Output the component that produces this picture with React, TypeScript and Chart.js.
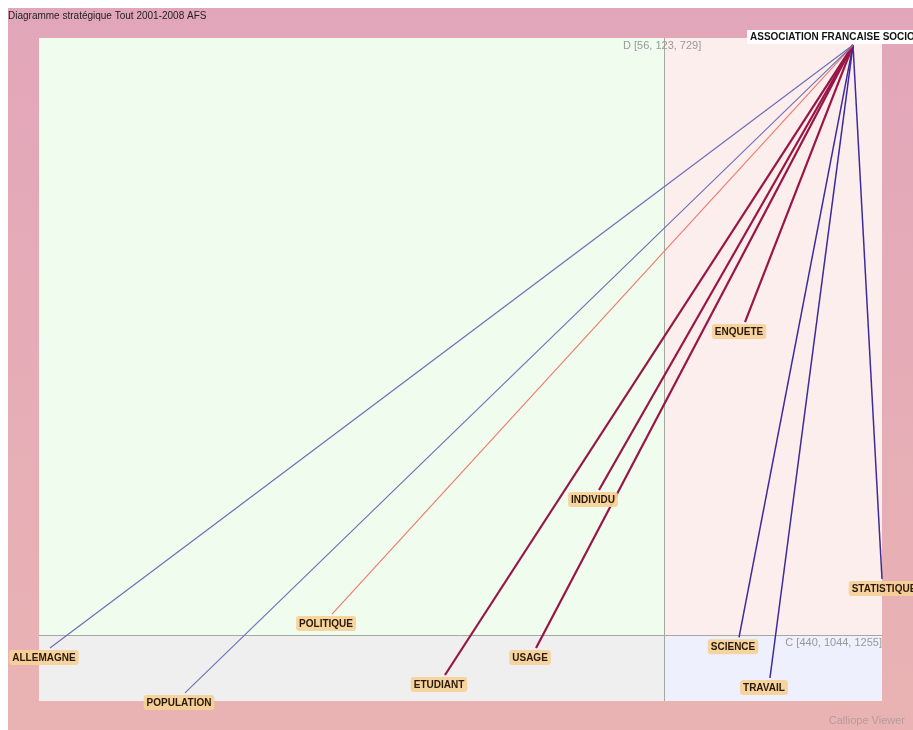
import React, { useEffect, useRef } from "react";
import { Chart, registerables } from "chart.js";

Chart.register(...registerables);

const chartTitle = "Diagramme stratégique Tout 2001-2008 AFS";
const hubName = "ASSOCIATION FRANCAISE SOCIOLOGIE";
const hubPoint = { x: 96.56, y: 98.94 };

const themes = ["ALLEMAGNE", "POPULATION", "POLITIQUE", "ETUDIANT", "USAGE", "INDIVIDU", "ENQUETE", "SCIENCE", "TRAVAIL", "STATISTIQUE"];
const centrality = [1.3, 17.32, 34.76, 48.16, 58.96, 66.43, 83.75, 83.04, 86.71, 100.0];
const density = [7.99, 1.21, 13.12, 3.92, 7.99, 31.83, 57.16, 9.6, 3.47, 18.4];
const linkColors = ["#6c6cb4", "#6c6cb4", "#f07a6a", "#981646", "#981646", "#981646", "#981646", "#3e2a9a", "#3e2a9a", "#3e2a9a"];
const linkWidths = [1.1, 1.1, 1.1, 2.2, 2.2, 2.2, 2.2, 1.5, 1.5, 1.5];

const centralityDivider = 74.14;
const densityDivider = 9.95;
const quadrantLabelD = "D [56, 123, 729]";
const quadrantLabelC = "C [440, 1044, 1255]";
const footer = "Calliope Viewer";

const FONT = "'Liberation Sans', Arial, sans-serif";

function roundRect(ctx: CanvasRenderingContext2D, x: number, y: number, w: number, h: number, r: number) {
  ctx.beginPath();
  ctx.moveTo(x + r, y);
  ctx.lineTo(x + w - r, y);
  ctx.quadraticCurveTo(x + w, y, x + w, y + r);
  ctx.lineTo(x + w, y + h - r);
  ctx.quadraticCurveTo(x + w, y + h, x + w - r, y + h);
  ctx.lineTo(x + r, y + h);
  ctx.quadraticCurveTo(x, y + h, x, y + h - r);
  ctx.lineTo(x, y + r);
  ctx.quadraticCurveTo(x, y, x + r, y);
  ctx.closePath();
}

const backgroundPlugin = {
  id: "strategicBackground",
  beforeDraw(chart: any) {
    const { ctx, chartArea: a, scales } = chart;
    const W = chart.width;
    const H = chart.height;
    ctx.save();
    const g = ctx.createLinearGradient(0, 0, 0, H);
    g.addColorStop(0, "#e2a6ba");
    g.addColorStop(1, "#e9b3b3");
    ctx.fillStyle = g;
    ctx.fillRect(0, 0, W, H);

    const vx = scales.x.getPixelForValue(centralityDivider);
    const hy = scales.y.getPixelForValue(densityDivider);
    ctx.fillStyle = "#effcee";
    ctx.fillRect(a.left, a.top, vx - a.left, hy - a.top);
    ctx.fillStyle = "#fdeeee";
    ctx.fillRect(vx, a.top, a.right - vx, hy - a.top);
    ctx.fillStyle = "#efefef";
    ctx.fillRect(a.left, hy, vx - a.left, a.bottom - hy);
    ctx.fillStyle = "#eef0fd";
    ctx.fillRect(vx, hy, a.right - vx, a.bottom - hy);

    ctx.strokeStyle = "#a3aaa3";
    ctx.lineWidth = 1;
    ctx.beginPath();
    ctx.moveTo(Math.round(vx) + 0.5, a.top);
    ctx.lineTo(Math.round(vx) + 0.5, a.bottom);
    ctx.moveTo(a.left, Math.round(hy) + 0.5);
    ctx.lineTo(a.right, Math.round(hy) + 0.5);
    ctx.stroke();

    ctx.fillStyle = "#1e1e1e";
    ctx.font = `10px ${FONT}`;
    ctx.textBaseline = "middle";
    ctx.textAlign = "left";
    ctx.fillText(chartTitle, 0, 8);

    ctx.fillStyle = "#999999";
    ctx.font = `11px ${FONT}`;
    ctx.textAlign = "left";
    ctx.fillText(quadrantLabelD, vx - 41, a.top + 8);
    ctx.textAlign = "right";
    ctx.fillText(quadrantLabelC, a.right, hy + 8);

    ctx.fillStyle = "#b89a9a";
    ctx.font = `11px ${FONT}`;
    ctx.textAlign = "right";
    ctx.fillText(footer, W - 8, H - 9);
    ctx.restore();
  },
  afterDatasetsDraw(chart: any) {
    const { ctx, scales } = chart;
    ctx.save();
    ctx.font = `bold 10px ${FONT}`;
    ctx.textBaseline = "middle";
    ctx.textAlign = "center";
    themes.forEach((name, i) => {
      const px = scales.x.getPixelForValue(centrality[i]);
      const py = scales.y.getPixelForValue(density[i]);
      const w = ctx.measureText(name).width + 6;
      const cx = i === themes.length - 1 ? px + 2 : px - 6;
      const top = py + 2;
      ctx.fillStyle = "rgba(246, 208, 150, 0.9)";
      roundRect(ctx, cx - w / 2, top, w, 15, 3);
      ctx.fill();
      ctx.fillStyle = "#2a1808";
      ctx.fillText(name, cx, top + 8);
    });
    const hx = scales.x.getPixelForValue(hubPoint.x);
    const hy = scales.y.getPixelForValue(hubPoint.y);
    const hw = ctx.measureText(hubName).width + 6;
    ctx.fillStyle = "#ffffff";
    ctx.fillRect(hx - 5 - hw / 2, hy - 15, hw, 14);
    ctx.fillStyle = "#141414";
    ctx.fillText(hubName, hx - 5, hy - 8);
    ctx.restore();
  },
};

export default function App() {
  const ref = useRef<HTMLCanvasElement | null>(null);
  useEffect(() => {
    if (!ref.current) return;
    const datasets = themes.map((name, i) => ({
      label: name,
      data: [
        { x: hubPoint.x, y: hubPoint.y },
        { x: centrality[i], y: density[i] },
      ],
      showLine: true,
      borderColor: linkColors[i],
      backgroundColor: linkColors[i],
      borderWidth: linkWidths[i],
      pointRadius: 0,
      clip: false as any,
    }));
    const chart = new Chart(ref.current, {
      type: "scatter",
      data: { datasets },
      options: {
        animation: false,
        responsive: false,
        devicePixelRatio: 1,
        layout: { padding: { left: 31, right: 31, top: 30, bottom: 29 } },
        plugins: { legend: { display: false }, tooltip: { enabled: false }, title: { display: false } },
        events: [],
        scales: {
          x: { type: "linear", min: 0, max: 100, display: false },
          y: { type: "linear", min: 0, max: 100, display: false },
        },
      },
      plugins: [backgroundPlugin],
    });
    return () => chart.destroy();
  }, []);
  return (
    <div style={{ position: "fixed", left: 8, top: 8, width: 905, height: 722 }}>
      <canvas ref={ref} width={905} height={722} style={{ display: "block" }} />
    </div>
  );
}
